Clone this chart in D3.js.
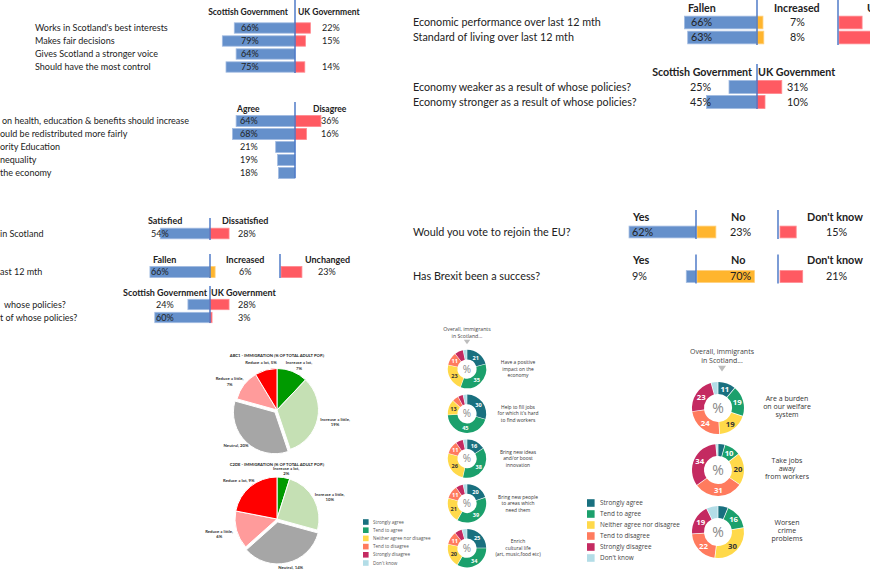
<!DOCTYPE html>
<html><head><meta charset="utf-8">
<script src="https://cdn.jsdelivr.net/npm/d3@7"></script>
<style>html,body{margin:0;padding:0;background:#fff;}svg{display:block;}</style>
</head><body>
<script>
// ---------------- DATA ----------------
const govQuestions = ["Works in Scotland's best interests","Makes fair decisions","Gives Scotland a stronger voice","Should have the most control"];
const govHeaders = ["Scottish Government","UK Government"];
const govScottish = [66,79,64,75];
const govUK = [22,15,null,14];

const policyQuestions = ["on health, education & benefits should increase","ould be redistributed more fairly","ority Education","nequality","the economy"];
const policyHeaders = ["Agree","Disagree"];
const policyAgree = [64,68,21,19,18];
const policyDisagree = [36,16,null,null,null];

const satQuestions = ["in Scotland"];
const satHeaders = ["Satisfied","Dissatisfied"];
const satSatisfied = [54];
const satDissatisfied = [28];

const eco2Questions = ["ast 12 mth"];
const ecoHeaders = ["Fallen","Increased","Unchanged"];
const eco2Fallen = [66];
const eco2Increased = [6];
const eco2Unchanged = [23];

const blame2Questions = ["whose policies?","t of whose policies?"];
const blame2Scottish = [24,60];
const blame2UK = [28,3];

const ecoQuestions = ["Economic performance over last 12 mth","Standard of living over last 12 mth"];
const ecoFallen = [66,63];
const ecoIncreased = [7,8];
const ecoUnchanged = [21,30];

const blameQuestions = ["Economy weaker as a result of whose policies?","Economy stronger as a result of whose policies?"];
const blameScottish = [25,45];
const blameUK = [31,10];

const euQuestions = ["Would you vote to rejoin the EU?","Has Brexit been a success?"];
const euHeaders = ["Yes","No","Don't know"];
const euYes = [62,9];
const euNo = [23,70];
const euDontKnow = [15,21];

const pieCategories = ["Increase a lot","Increase a little","Neutral","Reduce a little","Reduce a lot"];
const pieTitles = ["ABC1 - IMMIGRATION (% OF TOTAL ADULT POP.)","C2DE - IMMIGRATION (% OF TOTAL ADULT POP.)"];
const abc1Values = [7,19,20,7,5];
const c2deValues = [2,10,14,6,9];

const attitudeCategories = ["Strongly agree","Tend to agree","Neither agree nor disagree","Tend to disagree","Strongly disagree","Don't know"];
const donutHeader = ["Overall, immigrants","in Scotland..."];
const positiveStatements = [
  ["Have a positive","impact on the","economy"],
  ["Help to fill jobs","for which it's hard","to find workers"],
  ["Bring new ideas","and/or boost","innovation"],
  ["Bring new people","to areas which","need them"],
  ["Enrich","cultural life","(art, music,food etc)"]];
const positiveValues = [
  [21,35,23,11,7,3],
  [30,45,13,5,4,3],
  [16,38,26,11,6,3],
  [20,39,21,11,6,3],
  [25,34,20,11,6,4]];
const negativeStatements = [
  ["Are a burden","on our welfare","system"],
  ["Take jobs","away","from workers"],
  ["Worsen","crime","problems"]];
const negativeValues = [
  [11,19,19,24,23,4],
  [4,10,20,31,34,1],
  [6,16,30,22,19,7]];

// ---------------- STYLE ----------------
const FONT = "Lato, 'Open Sans', sans-serif";
const DFONT = "'Open Sans', sans-serif";
const BLUE = "#6590cb", BLUE_S = "#a3bce2", RED = "#ff5a62", RED_S = "#ff8a90", ORANGE = "#ffb52e", ORANGE_S = "#ffcf7a", AXIS = "#4472c4";
const attitudeColors = ["#19707f","#1ba06c","#ffd94a","#ff7b5e","#c42a61","#b3dde7"];
const pieColors = ["#009a00","#c5e0b4","#a6a6a6","#ff9b9b","#ff0000"];

const svg = d3.select("body").append("svg").attr("width",870).attr("height",570);
svg.append("rect").attr("width",870).attr("height",570).attr("fill","#fff");

const measurer = svg.append("text").attr("visibility","hidden").attr("x",-1000).attr("y",-1000);
function fit(str, width, family, weight) {
  measurer.attr("font-family", family).attr("font-weight", weight || 400).attr("font-size", 10).text(str);
  const w = measurer.node().getComputedTextLength();
  return 10 * width / w;
}

function drawPanel(o) {
  const n = o.cats.length;
  const y = d3.scaleBand().domain(o.cats)
    .range([o.c0 - o.step/2, o.c0 + (n - 0.5) * o.step])
    .paddingInner(o.pad).paddingOuter(o.pad/2);
  const g = svg.append("g").attr("font-family", FONT).attr("fill", "#222");
  g.selectAll(null).data(o.cats).join("text")
    .attr("x", (d,i) => o.labelX[i]).attr("y", d => y(d) + y.bandwidth()/2).attr("dy","0.35em")
    .attr("font-size", o.fs).text(d => d);
  o.series.forEach(s => {
    const x = d3.scaleLinear().domain([0,100]).range([0, 100 * s.ppu]);
    s._data = o.cats.map((c,i) => ({c, v: s.vals[i]})).filter(d => d.v != null);
    g.selectAll(null).data(s._data).join("rect")
      .attr("x", d => s.dir < 0 ? s.x0 - x(d.v) : s.x0)
      .attr("y", d => y(d.c) + 0.4).attr("width", d => x(d.v)).attr("height", y.bandwidth() - 0.8)
      .attr("fill", s.fill).attr("stroke", s.stroke).attr("stroke-width", 0.8);
  });
  (o.axes || []).forEach(a => g.append("line").attr("x1",a.x).attr("x2",a.x).attr("y1",a.y1).attr("y2",a.y2)
    .attr("stroke", AXIS).attr("stroke-width",1.4));
  o.series.forEach(s => {
    if (s.lx == null) return;
    g.selectAll(null).data(s._data).join("text")
      .attr("x", s.lx).attr("y", d => y(d.c) + y.bandwidth()/2).attr("dy","0.35em")
      .attr("font-size", o.fs).text(d => d.v + "%");
  });
  (o.headers || []).forEach(h => g.append("text").attr("x", h.x).attr("y", h.y).attr("dy","0.35em")
    .attr("text-anchor", h.anchor || "start").attr("font-weight", 700).attr("font-size", o.hfs).text(h.text));
}

// font sizes
const fsA = fit("Works in Scotland's best interests", 133, FONT);
const hfsA = fit("Scottish Government", 80, FONT, 700);
const fsB = fit("Economic performance over last 12 mth", 188, FONT);
const hfsB = fit("Scottish Government", 100, FONT, 700);
const fsC = fit("Would you vote to rejoin the EU?", 158, FONT);
const hfsC = fit("Don't know", 56, FONT, 700);
const hfsD = fit("Scottish Government", 84, FONT, 700);

// Panel 1
drawPanel({cats: govQuestions, c0: 28, step: 13, pad: 0.14, labelX: [35,35,35,35], fs: fsA, hfs: hfsA,
  series: [
    {vals: govScottish, x0: 295, dir: -1, ppu: 0.92, fill: BLUE, stroke: BLUE_S, lx: 241},
    {vals: govUK, x0: 295, dir: 1, ppu: 0.7, fill: RED, stroke: RED_S, lx: 322}],
  headers: [{text: govHeaders[0], x: 288, y: 12, anchor: "end"}, {text: govHeaders[1], x: 298, y: 12}],
  axes: [{x: 295, y1: 0, y2: 73}]});

// Panel 2
drawPanel({cats: policyQuestions, c0: 121, step: 13, pad: 0.08, labelX: [2,0,0,0,0], fs: fsA, hfs: hfsA,
  series: [
    {vals: policyAgree, x0: 295, dir: -1, ppu: 0.92, fill: BLUE, stroke: BLUE_S, lx: 240},
    {vals: policyDisagree, x0: 295, dir: 1, ppu: 0.72, fill: RED, stroke: RED_S, lx: 321}],
  headers: [{text: policyHeaders[0], x: 237, y: 109}, {text: policyHeaders[1], x: 313, y: 109}],
  axes: [{x: 295, y1: 102, y2: 178}]});

// Panel 3a
drawPanel({cats: satQuestions, c0: 233.5, step: 13, pad: 0.12, labelX: [0], fs: fsA, hfs: hfsD,
  series: [
    {vals: satSatisfied, x0: 210, dir: -1, ppu: 0.92, fill: BLUE, stroke: BLUE_S, lx: 151},
    {vals: satDissatisfied, x0: 210, dir: 1, ppu: 0.68, fill: RED, stroke: RED_S, lx: 238}],
  headers: [{text: satHeaders[0], x: 148, y: 221}, {text: satHeaders[1], x: 222, y: 221}],
  axes: [{x: 210, y1: 218, y2: 240}]});

// Panel 3b
drawPanel({cats: eco2Questions, c0: 272, step: 13, pad: 0.08, labelX: [0], fs: fsA, hfs: hfsD,
  series: [
    {vals: eco2Fallen, x0: 210, dir: -1, ppu: 0.91, fill: BLUE, stroke: BLUE_S, lx: 151},
    {vals: eco2Increased, x0: 210, dir: 1, ppu: 0.85, fill: ORANGE, stroke: ORANGE_S, lx: 239},
    {vals: eco2Unchanged, x0: 281, dir: 1, ppu: 0.91, fill: RED, stroke: RED_S, lx: 318}],
  headers: [{text: ecoHeaders[0], x: 153, y: 260}, {text: ecoHeaders[1], x: 226, y: 260}, {text: ecoHeaders[2], x: 305, y: 260}],
  axes: [{x: 210, y1: 254, y2: 278}, {x: 280, y1: 254, y2: 278}]});

// Panel 3c
drawPanel({cats: blame2Questions, c0: 304.5, step: 13, pad: 0.14, labelX: [4,0], fs: fsA, hfs: hfsD,
  series: [
    {vals: blame2Scottish, x0: 210, dir: -1, ppu: 0.92, fill: BLUE, stroke: BLUE_S, lx: 156},
    {vals: blame2UK, x0: 210, dir: 1, ppu: 0.68, fill: RED, stroke: RED_S, lx: 238}],
  headers: [{text: govHeaders[0], x: 207, y: 293, anchor: "end"}, {text: govHeaders[1], x: 211, y: 293}],
  axes: [{x: 210, y1: 286, y2: 323}]});

// Panel 4a
drawPanel({cats: ecoQuestions, c0: 22.5, step: 15, pad: 0.1, labelX: [413,413], fs: fsB, hfs: hfsB,
  series: [
    {vals: ecoFallen, x0: 757, dir: -1, ppu: 1.1, fill: BLUE, stroke: BLUE_S, lx: 691},
    {vals: ecoIncreased, x0: 757, dir: 1, ppu: 0.85, fill: ORANGE, stroke: ORANGE_S, lx: 790},
    {vals: ecoUnchanged, x0: 839, dir: 1, ppu: 1.1, fill: RED, stroke: RED_S, lx: null}],
  headers: [{text: ecoHeaders[0], x: 688, y: 8}, {text: ecoHeaders[1], x: 774, y: 8}, {text: ecoHeaders[2], x: 867, y: 8}],
  axes: [{x: 757, y1: 0, y2: 45}, {x: 838, y1: 0, y2: 45}]});

// Panel 4b
drawPanel({cats: blameQuestions, c0: 87, step: 15, pad: 0.07, labelX: [413,413], fs: fsB, hfs: hfsB,
  series: [
    {vals: blameScottish, x0: 757, dir: -1, ppu: 1.12, fill: BLUE, stroke: BLUE_S, lx: 690},
    {vals: blameUK, x0: 757, dir: 1, ppu: 0.8, fill: RED, stroke: RED_S, lx: 787}],
  headers: [{text: govHeaders[0], x: 752, y: 72, anchor: "end"}, {text: govHeaders[1], x: 758, y: 72}],
  axes: [{x: 757, y1: 64, y2: 109}]});

// Panel 5
[0,1].forEach(i => {
  const c0 = [232, 276.5][i], hy = [217.5, 260.5][i];
  drawPanel({cats: [euQuestions[i]], c0, step: 14, pad: 0.1, labelX: [413], fs: fsC, hfs: hfsC,
    series: [
      {vals: [euYes[i]], x0: 696, dir: -1, ppu: 1.08, fill: BLUE, stroke: BLUE_S, lx: 632},
      {vals: [euNo[i]], x0: 697, dir: 1, ppu: 0.82, fill: ORANGE, stroke: ORANGE_S, lx: 730},
      {vals: [euDontKnow[i]], x0: 780, dir: 1, ppu: 1.08, fill: RED, stroke: RED_S, lx: 826}],
    headers: [{text: euHeaders[0], x: 633, y: hy}, {text: euHeaders[1], x: 731, y: hy}, {text: euHeaders[2], x: 807, y: hy}],
    axes: [{x: 696, y1: c0 - 22, y2: c0 + 7}, {x: 778, y1: c0 - 22, y2: c0 + 7}]});
});

// ---------------- PIES ----------------
const pieTitleSize = fit(pieTitles[0], 95, FONT, 700);
function drawPie(values, title, cx, cy, r, ty) {
  const g = svg.append("g").attr("font-family", FONT);
  g.append("text").attr("x", cx).attr("y", ty).attr("dy","0.35em").attr("text-anchor","middle").attr("font-size", pieTitleSize)
    .attr("font-weight",700).attr("fill","#222").text(title);
  const arcs = d3.pie().sort(null)(values);
  const arc = d3.arc().innerRadius(0).outerRadius(r);
  const pg = g.append("g").attr("transform", `translate(${cx},${cy})`);
  pg.selectAll("path").data(arcs).join("path")
    .attr("d", arc).attr("fill", (d,i) => pieColors[i]).attr("stroke","#fff").attr("stroke-width",1)
    .attr("transform", (d,i) => {
      if (i !== 2) return null;
      const m = (d.startAngle + d.endAngle)/2;
      return `translate(${3*Math.sin(m)},${-3*Math.cos(m)})`;
    });
  // labels on an ellipse around the pie
  const rx = r + 18, ry = r + 8;
  const t = pg.selectAll("text").data(arcs).join("text")
    .attr("transform", d => {
      const m = (d.startAngle + d.endAngle)/2;
      return `translate(${rx*Math.sin(m)},${-ry*Math.cos(m)})`;
    }).attr("text-anchor","middle")
    .attr("font-size", 4.3).attr("font-weight",700).attr("fill","#333");
  t.each(function(d,i) {
    const name = pieCategories[i];
    const sel = d3.select(this);
    if (name.length > 12) {
      sel.append("tspan").attr("x",0).attr("dy","0.1em").text(name + ",");
      sel.append("tspan").attr("x",0).attr("dy","1.25em").text(d.data + "%");
    } else {
      sel.append("tspan").attr("x",0).attr("dy","0.35em").text(name + ", " + d.data + "%");
    }
  });
}
drawPie(abc1Values, pieTitles[0], 277, 410, 41.5, 356);
drawPie(c2deValues, pieTitles[1], 277, 519, 42, 465);

// left legend
(function(){
  const g = svg.append("g").attr("font-family", DFONT);
  const y = d3.scalePoint().domain(attitudeCategories).range([522, 563]);
  g.selectAll("rect").data(attitudeCategories).join("rect")
    .attr("x", 363).attr("y", d => y(d) - 2.8).attr("width", 5.6).attr("height", 5.6).attr("fill", (d,i) => attitudeColors[i]);
  g.selectAll("text").data(attitudeCategories).join("text")
    .attr("x", 373).attr("y", d => y(d)).attr("dy","0.35em").attr("font-size", 4.6).attr("fill","#555").text(d => d);
})();

// ---------------- DONUTS ----------------
function drawDonut(values, cx, cy, ro, ri, fs, pfs) {
  const g = svg.append("g").attr("transform", `translate(${cx},${cy})`).attr("font-family", DFONT);
  const arcs = d3.pie().sort(null).padAngle(0.025)(values);
  const arc = d3.arc().innerRadius(ri).outerRadius(ro);
  g.selectAll("path").data(arcs).join("path").attr("d", arc).attr("fill", (d,i) => attitudeColors[i]);
  g.selectAll("text.v").data(arcs.filter(d => d.data >= 10)).join("text").attr("class","v")
    .attr("transform", d => `translate(${arc.centroid(d)})`).attr("text-anchor","middle").attr("dy","0.36em")
    .attr("font-size", fs).attr("font-weight",700)
    .attr("fill", d => d.index === 2 ? "#333" : "#fff").text(d => d.data);
  g.append("text").attr("text-anchor","middle").attr("dy","0.36em").attr("font-size", pfs).attr("fill","#888").text("%");
}
function drawStatement(lines, x, y, fs, lh, off) {
  const t = svg.append("text").attr("font-family", DFONT).attr("font-size", fs).attr("fill","#333").attr("text-anchor","middle");
  lines.forEach((l,k) => t.append("tspan").attr("x", x).attr("y", y + off + k*lh).attr("dy","0.35em").text(l));
}
function drawHeader(x, y, fs, lh, tri) {
  const t = svg.append("text").attr("font-family", DFONT).attr("font-size", fs).attr("fill","#444").attr("text-anchor","middle");
  donutHeader.forEach((l,k) => t.append("tspan").attr("x", x).attr("y", y + k*lh).attr("dy","0.35em").text(l));
  svg.append("path").attr("d", `M${x-tri},${y+lh+tri*1.2}h${2*tri}l${-tri},${tri*1.4}z`).attr("fill","#bdbdbd");
}

drawHeader(467, 329, 5.2, 7, 3.2);
positiveValues.forEach((v,i) => {
  const cy = 369 + i * 44.8;
  drawDonut(v, 467, cy, 19.2, 9.6, 5.6, 10);
  drawStatement(positiveStatements[i], 518, cy, 4.9, 6.5, -6.6);
});

drawHeader(722, 352, 7, 9, 4);
negativeValues.forEach((v,i) => {
  const cy = 408 + i * 62;
  drawDonut(v, 718, cy, 26, 14, 7.8, 14);
  drawStatement(negativeStatements[i], 787, cy, 7, 8, -9.5);
});

// right legend
(function(){
  const g = svg.append("g").attr("font-family", DFONT);
  const y = d3.scalePoint().domain(attitudeCategories).range([503, 558]);
  g.selectAll("rect").data(attitudeCategories).join("rect")
    .attr("x", 587).attr("y", d => y(d) - 3.8).attr("width", 7.6).attr("height", 7.6).attr("fill", (d,i) => attitudeColors[i]);
  g.selectAll("text").data(attitudeCategories).join("text")
    .attr("x", 600).attr("y", d => y(d)).attr("dy","0.35em").attr("font-size", 6.4).attr("fill","#444").text(d => d);
})();
</script>
</body></html>
